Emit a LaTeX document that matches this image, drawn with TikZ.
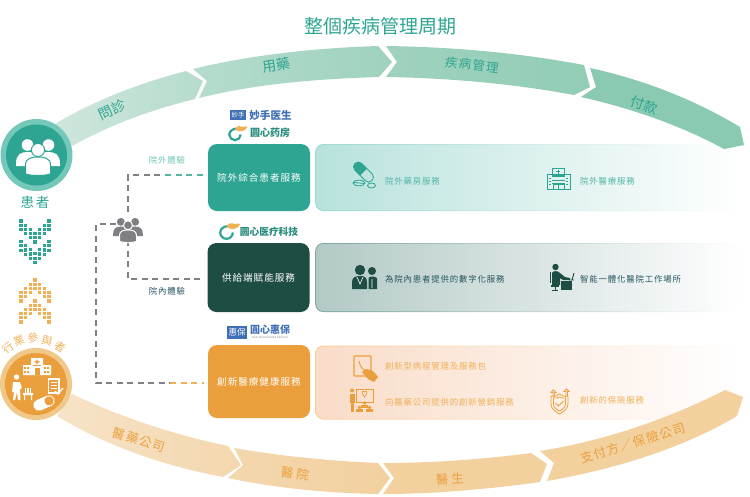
\documentclass[tikz,border=0pt]{standalone}
\usepackage{fontspec}
\setmainfont{Noto Sans CJK TC}
\newfontfamily\lsfont[LetterSpace=10]{Noto Sans CJK TC}
\newfontfamily\scfont{Noto Sans CJK SC}
\newcommand\fsz[1]{\fontsize{#1}{#1}\selectfont}
\definecolor{teal1}{HTML}{2EA592}
\definecolor{teal2}{HTML}{74C8BA}
\definecolor{teal3}{HTML}{55B5A5}
\definecolor{darkg}{HTML}{1E4D44}
\definecolor{org1}{HTML}{EB9F3C}
\definecolor{org2}{HTML}{F0C88A}
\definecolor{org3}{HTML}{F0B056}
\definecolor{blue1}{HTML}{3F6FB5}
\definecolor{greyd}{HTML}{808084}
\definecolor{ta}{HTML}{CFE6DC}
\definecolor{tb}{HTML}{B5DCCD}
\definecolor{tc}{HTML}{9FD2BD}
\definecolor{td}{HTML}{92CDB6}
\definecolor{te}{HTML}{8ACAB1}
\definecolor{oa}{HTML}{F7E3C8}
\definecolor{ob}{HTML}{F3D7AE}
\definecolor{oc}{HTML}{F2D19F}
\definecolor{pa}{HTML}{9FD8CF}
\definecolor{pb}{HTML}{B8E2DD}
\definecolor{pc}{HTML}{7FA6A0}
\definecolor{pd}{HTML}{B2C9C5}
\definecolor{pe}{HTML}{F6CE9E}
\definecolor{pf}{HTML}{F9DCC8}
\tikzset{
  x=1pt,y=-1pt,
  svc/.style={rounded corners=9pt,text=white,inner sep=0pt,minimum width=102pt,font=\lsfont\fsz{9.6}},
  plabel/.style={anchor=west,inner sep=0pt,font=\lsfont\fsz{8.4}},
  arctext/.style={inner sep=0pt,font=\lsfont\fsz{12.5}},
  dashline/.style={line width=1.4pt,dash pattern=on 6pt off 4.5pt}
}
% people icon
\newcommand\peopleicon[5]{% x y scale fill bg
\begin{scope}[shift={(#1,#2)},scale=#3]
\fill[#4] (-10.5,-12) circle (5.8);
\fill[#4] (10.5,-12) circle (5.8);
\fill[#4] (-22,7) .. controls (-22,-3) and (-17,-5) .. (-10,-5) .. controls (-3,-5) and (3,-5) .. (10,-5) .. controls (17,-5) and (22,-3) .. (22,7) -- (22,9) -- (-22,9) -- cycle;
\fill[#4,draw=#5,line width=1pt] (0,-7) circle (6.6);
\fill[#4,draw=#5,line width=1pt] (-12.5,17) -- (-12.5,8) .. controls (-12.5,1) and (-6,0) .. (0,0) .. controls (6,0) and (12.5,1) .. (12.5,8) -- (12.5,17) .. controls (5,19) and (-5,19) .. (-12.5,17) -- cycle;
\end{scope}}
% chevron of dots
\newcommand\dotchev[3]{% y0 colour dir(1 down / 0 up)
\foreach \k/\d in {0/3,1/2,2/1,3/0,4/1,5/2,6/3}{
  \pgfmathsetmacro\xx{21+4.67*\k}
  \foreach \r in {0,1,2}{
    \pgfmathsetmacro\yy{#3==1 ? #1+(3-\d)*4.1+\r*4.3 : #1+\d*4.1+\r*4.3}
    \fill[#2] (\xx-1.7,\yy-1.6) rectangle (\xx+1.7,\yy+1.6);
  }}}
% panel
\newcommand\panel[5]{% name ymid h border fillc
\node[rounded corners=8pt,minimum width=425pt,minimum height=#3pt,inner sep=0pt,left color=#4,right color=white,anchor=west] (#1) at (315,#2) {};
\node[rounded corners=7pt,minimum width=425pt,minimum height=#3pt-2pt,inner sep=0pt,left color=#5,right color=white,anchor=west] at (316,#2) {};
}
% circle logo
\newcommand\ringlogo[3]{% x y scale
\begin{scope}[shift={(#1,#2)},scale=#3]
\draw[teal1,line width=2.2pt] (1,-6) .. controls (-2.5,-6) and (-6,-3.3) .. (-6,0) .. controls (-6,3.3) and (-3.3,6) .. (0,6) .. controls (3.3,6) and (6,3.3) .. (6,0);
\fill[org3] (0,-5) .. controls (1,-10) and (6,-9) .. (8,-8) .. controls (10,-8.5) and (12,-9) .. (13,-8) .. controls (11,-3) and (5,-2) .. (0,-5) -- cycle;
\end{scope}}
\begin{document}
\begin{tikzpicture}
\fill[white] (0,0) rectangle (750,496);
\useasboundingbox (0,0) rectangle (750,496);
\node[inner sep=0pt,text=teal1,font=\fsz{19}] (title) at (380,26) {整個疾病管理周期};
% panels
\panel{p1}{177.5}{67}{pa}{pb}
\panel{p2}{277.5}{69}{pc}{pd}
\panel{p3}{382.5}{74}{pe}{pf}
% top band
\shade[left color=ta,right color=tb] (55,124) .. controls (95,100) and (140,83) .. (186,71) -- (203,81) -- (195,99) .. controls (150,110) and (110,125) .. (72,146) -- cycle;
\shade[left color=tb,right color=tc] (193,69) .. controls (250,55) and (315,48) .. (378,46) -- (392,62) -- (379,77) .. controls (315,79) and (255,84) .. (199,98) -- (207,81) -- cycle;
\shade[left color=tc,right color=td] (386,46) .. controls (455,47) and (520,53) .. (584,65) -- (590,87) -- (574,95) .. controls (515,84) and (450,78) .. (386,77) -- (397,62) -- cycle;
\fill[te] (590,68) .. controls (645,80) and (695,100) .. (740,127) -- (744,145) -- (724,149) .. controls (680,125) and (630,108) .. (581,97) -- (596,87) -- cycle;
% bottom band
\shade[left color=oa,right color=ob] (72,394) .. controls (120,417) and (175,435) .. (228,446) -- (241,465) -- (223,477) .. controls (160,465) and (105,445) .. (57,416) -- cycle;
\shade[left color=ob,right color=oc] (234,448) .. controls (280,456) and (330,461) .. (378,463) -- (390,478) -- (378,494) .. controls (325,493) and (275,488) .. (228,478) -- (243,465) -- cycle;
\fill[oc] (383,463) .. controls (435,463) and (485,459) .. (531,453) -- (547,464) -- (540,482) .. controls (490,489) and (435,494) .. (383,494) -- (394,478) -- cycle;
\fill[oc] (540,451) .. controls (608,440) and (670,418) .. (725,390) -- (743,397) -- (737,416) .. controls (680,450) and (610,470) .. (547,481) -- (554,463) -- cycle;
% band labels
\node[arctext,text=teal1,rotate=25,font=\fsz{14}] (l1) at (112,110) {問診};
\node[arctext,text=teal1,rotate=9,font=\fsz{14}] (l2) at (276,65) {用藥};
\node[arctext,text=teal1,rotate=-8] (l3) at (472,65) {疾病管理};
\node[arctext,text=teal1,rotate=-18,font=\fsz{14}] (l4) at (644,105) {付款};
\node[arctext,text=org1,rotate=-18] (m1) at (139,440) {醫藥公司};
\node[arctext,text=org1,rotate=-8] (m2) at (295,474) {醫\hspace{3pt}院};
\node[arctext,text=org1,rotate=2] (m3) at (450,479) {醫\hspace{3pt}生};
\node[arctext,text=org1,rotate=17] (m4) at (633,443) {支付方／保險公司};
% service boxes
\node[svc,fill=teal1,minimum height=67pt] (b1) at (259,177.5) {院外綜合患者服務};
\node[svc,fill=darkg,minimum height=69pt] (b2) at (258.5,277.5) {供給端賦能服務};
\node[svc,fill=org1,minimum height=73pt] (b3) at (259,381.5) {創新醫療健康服務};
% connectors
\coordinate (grp) at (128,226);
\coordinate (c1) at (204,175);
\coordinate (c1k) at (165,175);
\coordinate (c2) at (204,279);
\coordinate (c3) at (204,383);
\coordinate (c3k) at (170,383);
\coordinate (up) at (128,212);
\coordinate (dn) at (128,240);
\coordinate (le) at (116,224);
\coordinate (lc) at (96,224);
\draw[dashline,greyd] (up) |- (c1k);
\draw[dashline,teal3] (c1k) -- (c1);
\draw[dashline,greyd] (dn) |- (c2);
\draw[dashline,greyd] (le) -- (lc) |- (c3k);
\draw[dashline,org3] (c3k) -- (c3);
\peopleicon{128}{230}{0.68}{greyd}{white}
\node[inner sep=0pt,text=teal2,font=\lsfont\fsz{8.4}] (t1) at (167,160) {院外體驗};
\node[inner sep=0pt,text=darkg!70!blue1,font=\lsfont\fsz{8.4}] (t2) at (167,291) {院內體驗};
% patient circle
\fill[teal2] (36.5,155) circle (36);
\fill[teal1] (36.5,155) circle (30.5);
\peopleicon{38}{157}{1}{white}{teal1}
\node[inner sep=0pt,text=teal1,font=\fsz{13.5}] (pt) at (35,202) {患\hspace{2pt}者};
% dots
\dotchev{221}{teal1}{1}
\dotchev{241.5}{teal1}{1}
\dotchev{280}{org3}{0}
\dotchev{301}{org3}{0}
% industry circle
\fill[org2] (36,384) circle (36);
\fill[org1] (36,384) circle (31);
\foreach \c/\x/\y/\r in {行/8.5/347.5/38,業/19/340.5/22,參/33/338/4,與/47/340.5/-14,者/60.5/347/-32}{
  \node[inner sep=0pt,text=org3,rotate=\r,font=\fsz{11}] at (\x,\y) {\c};}
% hospital
\fill[white] (31,358) rectangle (43,375) (23,365) rectangle (51,375);
\foreach \x in {24,27,44,47}{\fill[org1] (\x,367) rectangle (\x+2,369) (\x,371) rectangle (\x+2,373);}
\fill[org1] (34.5,368) rectangle (39.5,375);
\fill[org1] (33,365) rectangle (41,366);
\fill[org1] (36.3,359.5) rectangle (37.7,364) (34.7,361) rectangle (39.3,362.5);
% figure with cart
\fill[white] (16.5,377) circle (2.7);
\fill[white] (12,392) -- (13,382) -- (20,382) -- (22,388) -- (20,389) -- (20.5,400) -- (18,400) -- (17,392) -- (15,400) -- (13,400) -- (14,392) -- cycle;
\fill[white] (23,393) rectangle (33,395) (24,395) rectangle (25,400) (31,395) rectangle (32,400);
\foreach \x in {24.5,27,29.5}{\fill[white] (\x,388) rectangle (\x+1.5,393);}
% document
\draw[white,line width=1.2pt,fill=org1] (48.5,379) rectangle (59,393);
\draw[white,line width=.8pt] (50.5,382) -- (57,382) (50.5,385) -- (57,385) (50.5,388) -- (57,388);
\draw[white,line width=1.3pt] (55,391) -- (58,394) -- (63,388);
% pill
\begin{scope}[shift={(44,403)},rotate=23]
\fill[white,rounded corners=5pt] (-11,-5.5) rectangle (11,5.5);
\fill[org1,rounded corners=4pt] (1,-4.5) rectangle (10,4.5);
\end{scope}
% panel 1 icons
\begin{scope}[shift={(363.5,172)},rotate=-45]
\begin{scope}
\clip (-13,-6) rectangle (0,6);
\fill[teal1,rounded corners=4.5pt] (-12,-4.8) rectangle (12,4.8);
\end{scope}
\draw[teal1,line width=.8pt,rounded corners=4.5pt] (-12,-4.8) rectangle (12,4.8);
\end{scope}
\draw[teal1,line width=.8pt] (359,183) ellipse (6 and 2.8) (353.5,182.5) -- (364.5,183.5);
\draw[teal1,line width=.8pt] (371.5,185.5) ellipse (4 and 2.5);
\node[plabel,text=teal3] (q1) at (385,181) {院外藥房服務};
\begin{scope}[teal1,line width=.8pt]
\draw (552,168) rectangle (564,175);
\draw (558,169.5) -- (558,173.5) (556,171.5) -- (560,171.5);
\draw (547,174) rectangle (570,189.5);
\draw (552,176) -- (565,176) (552,180) -- (565,180) (552,183) -- (565,183);
\draw (553,189.5) -- (553,184) -- (564,184) -- (564,189.5) (558.5,184) -- (558.5,189.5);
\draw (549,178) -- (551,178) (549,181) -- (551,181) (549,184) -- (551,184) (566,178) -- (568,178) (566,181) -- (568,181) (566,184) -- (568,184);
\end{scope}
\node[plabel,text=teal3] (q2) at (580,181) {院外醫療服務};
% panel 2 icons
\fill[darkg] (360,270) circle (5.2);
\fill[darkg] (352,289) -- (352,282) .. controls (352,277) and (356,276) .. (360,276) .. controls (364,276) and (367,277) .. (367,282) -- (367,289) -- cycle;
\fill[darkg] (372,271) circle (4);
\fill[darkg] (368.5,289) -- (368.5,278) .. controls (370,276) and (374,276) .. (377,278) -- (377,289) -- cycle;
\draw[white,line width=.6pt] (357,277) -- (360,284) -- (363,277) (372,279) -- (372,288);
\node[plabel,text=darkg!75!blue1] (q3) at (385,279) {為院內患者提供的數字化服務};
\fill[darkg] (555.5,267) circle (3.2);
\fill[darkg] (552,285) -- (552,273) .. controls (552,271) and (558,270) .. (560,273) -- (565,277) -- (570,278) -- (570,280) -- (563,280) -- (560,278) -- (560,285) -- cycle;
\draw[darkg,line width=1pt] (550,272) -- (550,283);
\fill[darkg] (551,285) rectangle (559,286.5);
\draw[darkg,line width=.8pt] (555,286.5) -- (555,290) (552,290) -- (558,290);
\fill[darkg] (561,281) rectangle (572,290);
\draw[darkg,line width=.9pt] (569,280) -- (574,280) (572,280) -- (574,273);
\node[plabel,text=darkg!75!blue1] (q4) at (580,279) {智能一體化醫院工作場所};
% panel 3 icons
\draw[org1,line width=1.3pt,rounded corners=1pt] (354,356) rectangle (371,376);
\draw[org1,line width=1pt] (359,361) .. controls (360,367) and (363,370) .. (367,371);
\fill[org1] (362,372) -- (366,369) -- (371,370) -- (375,373) -- (378,377) -- (374,382) -- (368,379) -- cycle;
\node[plabel,text=org3] (q5) at (385,366) {創新型病程管理及服務包};
\fill[org1] (352,390.5) circle (2);
\fill[org1] (350,393.5) rectangle (354.5,403);
\fill[org1] (350.5,403) rectangle (353.8,412);
\draw[org1,line width=.9pt] (356,389) rectangle (373,402);
\draw[org1,line width=.7pt] (362.5,394) .. controls (361,391) and (364,390) .. (364.5,392) .. controls (365,390) and (368,391) .. (366.5,394) -- (364.5,397) -- cycle;
\foreach \x/\y in {364.5/403.5,359.5/408,369.5/408}{
  \fill[org1] (\x,\y-.6) circle (1.9);
  \fill[org1] (\x-3.8,\y+1) rectangle (\x+3.8,\y+4);}
\node[plabel,text=org3] (q6) at (385,402) {向醫藥公司提供的創新營銷服務};
\begin{scope}[org1,line width=.8pt]
\draw (551,396) .. controls (555,397) and (557,396) .. (559.5,394) .. controls (562,396) and (564,397) .. (568,396) -- (568,404) .. controls (568,409) and (563,412) .. (559.5,414) .. controls (556,412) and (551,409) .. (551,404) -- cycle;
\draw (553.5,398) .. controls (556,398.5) and (558,398) .. (559.5,397) .. controls (561,398) and (563,398.5) .. (565.5,398) -- (565.5,404) .. controls (565.5,407.5) and (562,410) .. (559.5,411) .. controls (557,410) and (553.5,407.5) .. (553.5,404) -- cycle;
\draw (555.5,403) -- (558.5,406) -- (563.5,401);
\draw (553,396) -- (553,392.5) -- (551,392.5) -- (553.5,390) -- (556,392.5) -- (554.5,392.5) -- (554.5,396);
\draw (566,396) -- (566,391.5) -- (564,391.5) -- (566.5,389) -- (569,391.5) -- (567.5,391.5) -- (567.5,396);
\end{scope}
\node[plabel,text=org3] (q7) at (580,400) {創新的保險服務};
% logos
\node[fill=blue1,inner sep=0pt,minimum width=16.5pt,minimum height=10pt,text=white,font=\scfont\fsz{6.5}] (lg1) at (238,115) {妙手};
\node[inner sep=0pt,text=blue1,font=\scfont\bfseries\fsz{10.6}] (lg2) at (270.5,115) {妙手医生};
\ringlogo{235}{134.5}{0.95}
\node[inner sep=0pt,text=teal1!85!black,font=\scfont\bfseries\fsz{10}] (lg3) at (270,133) {圆心药房};
\ringlogo{226.5}{232.5}{1.05}
\node[inner sep=0pt,text=teal1!85!black,font=\scfont\bfseries\fsz{9.7}] (lg4) at (269,232) {圆心医疗科技};
\node[fill=blue1,inner sep=0pt,minimum width=20.5pt,minimum height=13pt,text=white,font=\fsz{8.5}] (lg5) at (237,332.5) {惠保};
\node[inner sep=0pt,text=blue1,font=\bfseries\fsz{10}] (lg6) at (270,330) {圓心惠保};
\node[inner sep=0pt,text=greyd,font=\fsz{2.8}] (lg7) at (270,337.5) {Yuan Xin Insurance Services};
\end{tikzpicture}
\end{document}
